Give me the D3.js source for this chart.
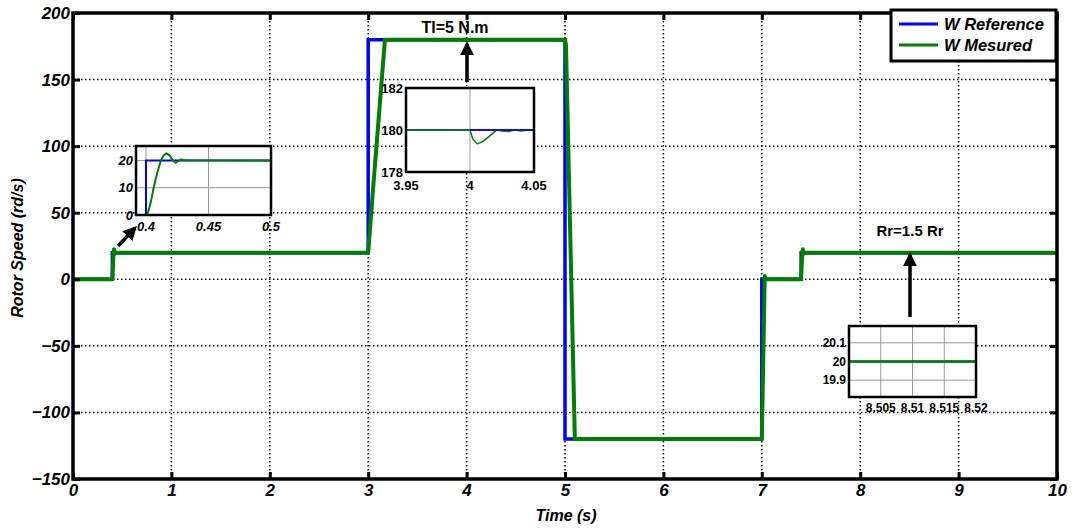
<!DOCTYPE html>
<html>
<head>
<meta charset="utf-8">
<script src="https://cdn.jsdelivr.net/npm/d3@7/dist/d3.min.js"></script>
<style>
  body { margin: 0; background: #fff; }
  text { font-family: "Liberation Sans", Arial, sans-serif; }
</style>
</head>
<body>
<svg id="chart" width="1074" height="530"></svg>
<script>
// ---- data ----
const refTime  = [0, 0.4, 0.4, 3, 3, 5, 5, 7, 7, 7.4, 7.4, 10];
const refSpeed = [0, 0, 20, 20, 180, 180, -120, -120, 0, 0, 20, 20];

const mesTime  = [0, 0.4, 0.401, 0.406, 0.412, 0.4164, 0.4238, 0.43, 3.0, 3.04, 3.17, 5.0, 5.01, 5.1,
                  7.0, 7.03, 7.04, 7.05, 7.4, 7.405, 7.412, 7.4164, 7.4238, 7.43, 10];
const mesSpeed = [0, 0, 0, 10, 20, 22.6, 19.2, 20, 20, 59, 180, 180, 176, -120,
                  -120, 2.5, 0.5, 0, 0, 10, 20, 22.6, 19.2, 20, 20];

// zoom 1 : speed step at t = 0.4
const zoom1RefTime  = [0.392, 0.4, 0.4, 0.5];
const zoom1RefSpeed = [0, 0, 20, 20];
const zoom1MesTime  = [0.392, 0.4005, 0.402, 0.404, 0.4061, 0.409, 0.4119, 0.414, 0.4164, 0.419, 0.421, 0.4238, 0.426, 0.428, 0.431, 0.5];
const zoom1MesSpeed = [0, 0, 1.5, 5, 10, 15.5, 20, 21.8, 22.6, 21.8, 20.3, 19.2, 19.8, 20.4, 20.1, 20];

// zoom 2 : load torque at t = 4
const zoom2RefTime  = [3.95, 4.05];
const zoom2RefSpeed = [180, 180];
const zoom2MesTime  = [3.95, 4.0, 4.002, 4.0056, 4.01, 4.015, 4.019, 4.021, 4.025, 4.03, 4.035, 4.04, 4.045, 4.05];
const zoom2MesSpeed = [180, 180, 179.6, 179.34, 179.45, 179.7, 179.9, 180, 179.95, 179.93, 180, 179.95, 180, 180];

// zoom 3 : rotor resistance change
const zoom3RefTime  = [8.5, 8.52];
const zoom3RefSpeed = [20, 20];
const zoom3MesTime  = [8.5, 8.52];
const zoom3MesSpeed = [20, 20];

const xTicks = [0, 1, 2, 3, 4, 5, 6, 7, 8, 9, 10];
const yTicks = [-150, -100, -50, 0, 50, 100, 150, 200];
const zoom1XTicks = [0.4, 0.45, 0.5], zoom1YTicks = [0, 10, 20];
const zoom2XTicks = [3.95, 4, 4.05], zoom2YTicks = [178, 180, 182];
const zoom3XTicks = [8.505, 8.51, 8.515, 8.52], zoom3YTicks = [19.9, 20, 20.1];

const legendLabels = ['W Reference', 'W Mesured'];
const blue = '#0000ff', green = '#008000';

// ---- main plot ----
const svg = d3.select('#chart');
const pLeft = 73, pRight = 1057, pTop = 13, pBottom = 479;

const x = d3.scaleLinear().domain([0, 10]).range([pLeft, pRight]);
const y = d3.scaleLinear().domain([-150, 200]).range([pBottom, pTop]);

// dotted grid
svg.append('g').selectAll('line').data(xTicks.slice(1, -1)).enter().append('line')
  .attr('x1', d => x(d)).attr('x2', d => x(d)).attr('y1', pTop).attr('y2', pBottom)
  .attr('stroke', '#000').attr('stroke-width', 1.5).attr('stroke-dasharray', '1.5,2.5');
svg.append('g').selectAll('line').data(yTicks.slice(1, -1)).enter().append('line')
  .attr('y1', d => y(d)).attr('y2', d => y(d)).attr('x1', pLeft).attr('x2', pRight)
  .attr('stroke', '#000').attr('stroke-width', 1.5).attr('stroke-dasharray', '1.5,2.5');

const line = d3.line().x(d => x(d[0])).y(d => y(d[1]));
svg.append('path').datum(d3.zip(refTime, refSpeed)).attr('d', line)
  .attr('fill', 'none').attr('stroke', blue).attr('stroke-width', 3.5);
svg.append('path').datum(d3.zip(mesTime, mesSpeed)).attr('d', line)
  .attr('fill', 'none').attr('stroke', green).attr('stroke-width', 4)
  .attr('stroke-linejoin', 'round');

// axes, ticks pointing inward on all four sides
const fontMain = g => g.selectAll('text')
  .attr('font-size', 17).attr('font-weight', 'bold').attr('font-style', 'italic').attr('fill', '#000');
const thick = g => {
  g.select('.domain').remove();
  g.selectAll('.tick line').attr('stroke', '#000').attr('stroke-width', 3);
};
svg.append('g').attr('transform', `translate(0,${pBottom})`)
  .call(d3.axisBottom(x).tickValues(xTicks).tickSizeInner(-7).tickSizeOuter(0).tickPadding(5).tickFormat(d3.format('d')))
  .call(thick).call(fontMain);
svg.append('g').attr('transform', `translate(${pLeft},0)`)
  .call(d3.axisLeft(y).tickValues(yTicks).tickSizeInner(-7).tickSizeOuter(0).tickPadding(3).tickFormat(d3.format('d')))
  .call(thick).call(fontMain);
svg.append('g').attr('transform', `translate(0,${pTop})`)
  .call(d3.axisTop(x).tickValues(xTicks).tickSizeInner(-7).tickSizeOuter(0).tickFormat(''))
  .call(thick);
svg.append('g').attr('transform', `translate(${pRight},0)`)
  .call(d3.axisRight(y).tickValues(yTicks).tickSizeInner(-7).tickSizeOuter(0).tickFormat(''))
  .call(thick);
svg.append('rect').attr('x', pLeft).attr('y', pTop).attr('width', pRight - pLeft).attr('height', pBottom - pTop)
  .attr('fill', 'none').attr('stroke', '#000').attr('stroke-width', 3.5);

// axis titles
svg.append('text').attr('x', 566).attr('y', 521).attr('text-anchor', 'middle')
  .attr('font-size', 16).attr('font-weight', 'bold').attr('font-style', 'italic').text('Time (s)');
svg.append('text').attr('transform', 'translate(23,248) rotate(-90)').attr('text-anchor', 'middle')
  .attr('font-size', 16).attr('font-weight', 'bold').attr('font-style', 'italic').text('Rotor Speed (rd/s)');

// ---- zoom insets ----
function drawInset(box, xDom, yDom, xt, yt, refT, refV, mesT, mesV, opts) {
  const ix = d3.scaleLinear().domain(xDom).range([box.x0, box.x1]);
  const iy = d3.scaleLinear().domain(yDom).range([box.y1, box.y0]);
  const g = svg.append('g');
  g.append('rect').attr('x', box.x0).attr('y', box.y0).attr('width', box.x1 - box.x0).attr('height', box.y1 - box.y0)
    .attr('fill', '#fff');
  // light solid grid
  g.selectAll('.gx').data(xt).enter().append('line')
    .attr('x1', d => ix(d)).attr('x2', d => ix(d)).attr('y1', box.y0).attr('y2', box.y1)
    .attr('stroke', '#999').attr('stroke-width', 1);
  g.selectAll('.gy').data(yt).enter().append('line')
    .attr('y1', d => iy(d)).attr('y2', d => iy(d)).attr('x1', box.x0).attr('x2', box.x1)
    .attr('stroke', '#999').attr('stroke-width', 1);
  const l = d3.line().x(d => ix(d[0])).y(d => iy(d[1]));
  g.append('path').datum(d3.zip(refT, refV)).attr('d', l).attr('fill', 'none')
    .attr('stroke', blue).attr('stroke-width', opts.refW);
  g.append('path').datum(d3.zip(mesT, mesV)).attr('d', l).attr('fill', 'none')
    .attr('stroke', green).attr('stroke-width', opts.mesW).attr('stroke-linejoin', 'round');
  if (opts.refOnTop) {
    // reference drawn again over the measured trace after the disturbance
    g.append('path').datum(d3.zip(refT, refV)).attr('d', l).attr('fill', 'none')
      .attr('stroke', blue).attr('stroke-width', opts.refW)
      .attr('stroke-dasharray', `0,${ix(opts.refOnTop) - box.x0},${box.x1 - ix(opts.refOnTop)}`);
  }
  g.append('rect').attr('x', box.x0).attr('y', box.y0).attr('width', box.x1 - box.x0).attr('height', box.y1 - box.y0)
    .attr('fill', 'none').attr('stroke', '#000').attr('stroke-width', 2.5);
  const txt = sel => sel.attr('font-size', opts.fs).attr('font-weight', 'bold')
    .attr('font-style', opts.italic ? 'italic' : 'normal');
  g.selectAll('.lx').data(xt).enter().append('text')
    .attr('x', d => ix(d)).attr('y', box.y1 + opts.fs + (opts.xPad || 3)).attr('text-anchor', 'middle')
    .text(d => d).call(txt);
  g.selectAll('.ly').data(yt).enter().append('text')
    .attr('x', box.x0 - 3).attr('y', d => iy(d) + opts.fs * 0.35).attr('text-anchor', 'end')
    .text(d => d).call(txt);
}

drawInset({x0: 136, x1: 271, y0: 146, y1: 215}, [0.392, 0.5], [0, 25.3], zoom1XTicks, zoom1YTicks,
  zoom1RefTime, zoom1RefSpeed, zoom1MesTime, zoom1MesSpeed, {fs: 13, italic: true, refW: 2, mesW: 2});
drawInset({x0: 406, x1: 534, y0: 88, y1: 172}, [3.95, 4.05], [178, 182], zoom2XTicks, zoom2YTicks,
  zoom2RefTime, zoom2RefSpeed, zoom2MesTime, zoom2MesSpeed, {fs: 13, italic: false, refW: 1.5, mesW: 1.5, refOnTop: 4.0, xPad: 5});
drawInset({x0: 849, x1: 976, y0: 326, y1: 397}, [8.5, 8.52], [19.81, 20.19], zoom3XTicks, zoom3YTicks,
  zoom3RefTime, zoom3RefSpeed, zoom3MesTime, zoom3MesSpeed, {fs: 12, italic: false, refW: 2, mesW: 2.5});

// ---- arrows and notes ----
svg.append('defs').append('marker').attr('id', 'head')
  .attr('viewBox', '0 0 10 10').attr('refX', 8).attr('refY', 5)
  .attr('markerWidth', 4).attr('markerHeight', 4).attr('orient', 'auto')
  .append('path').attr('d', 'M0,0 L10,5 L0,10 z').attr('fill', '#000');
const arrow = (x1, y1, x2, y2) => svg.append('line')
  .attr('x1', x1).attr('y1', y1).attr('x2', x2).attr('y2', y2)
  .attr('stroke', '#000').attr('stroke-width', 3.5).attr('marker-end', 'url(#head)');
arrow(118, 246, 135, 228);
arrow(467, 82, 467, 44);
arrow(910, 317, 910, 255);

svg.append('text').attr('x', 455).attr('y', 33).attr('text-anchor', 'middle')
  .attr('font-size', 16).attr('font-weight', 'bold').text('Tl=5 N.m');
svg.append('text').attr('x', 910).attr('y', 236).attr('text-anchor', 'middle')
  .attr('font-size', 15).attr('font-weight', 'bold').text('Rr=1.5 Rr');

// ---- legend ----
const lg = svg.append('g');
lg.append('rect').attr('x', 891).attr('y', 10).attr('width', 165).attr('height', 51)
  .attr('fill', '#fff').attr('stroke', '#000').attr('stroke-width', 3);
legendLabels.forEach((lab, i) => {
  const ly = 24 + i * 21;
  lg.append('line').attr('x1', 899).attr('x2', 938).attr('y1', ly).attr('y2', ly)
    .attr('stroke', i === 0 ? blue : green).attr('stroke-width', 3);
  lg.append('text').attr('x', 944).attr('y', ly + 6)
    .attr('font-size', 16.5).attr('font-weight', 'bold').attr('font-style', 'italic').text(lab);
});
</script>
</body>
</html>
